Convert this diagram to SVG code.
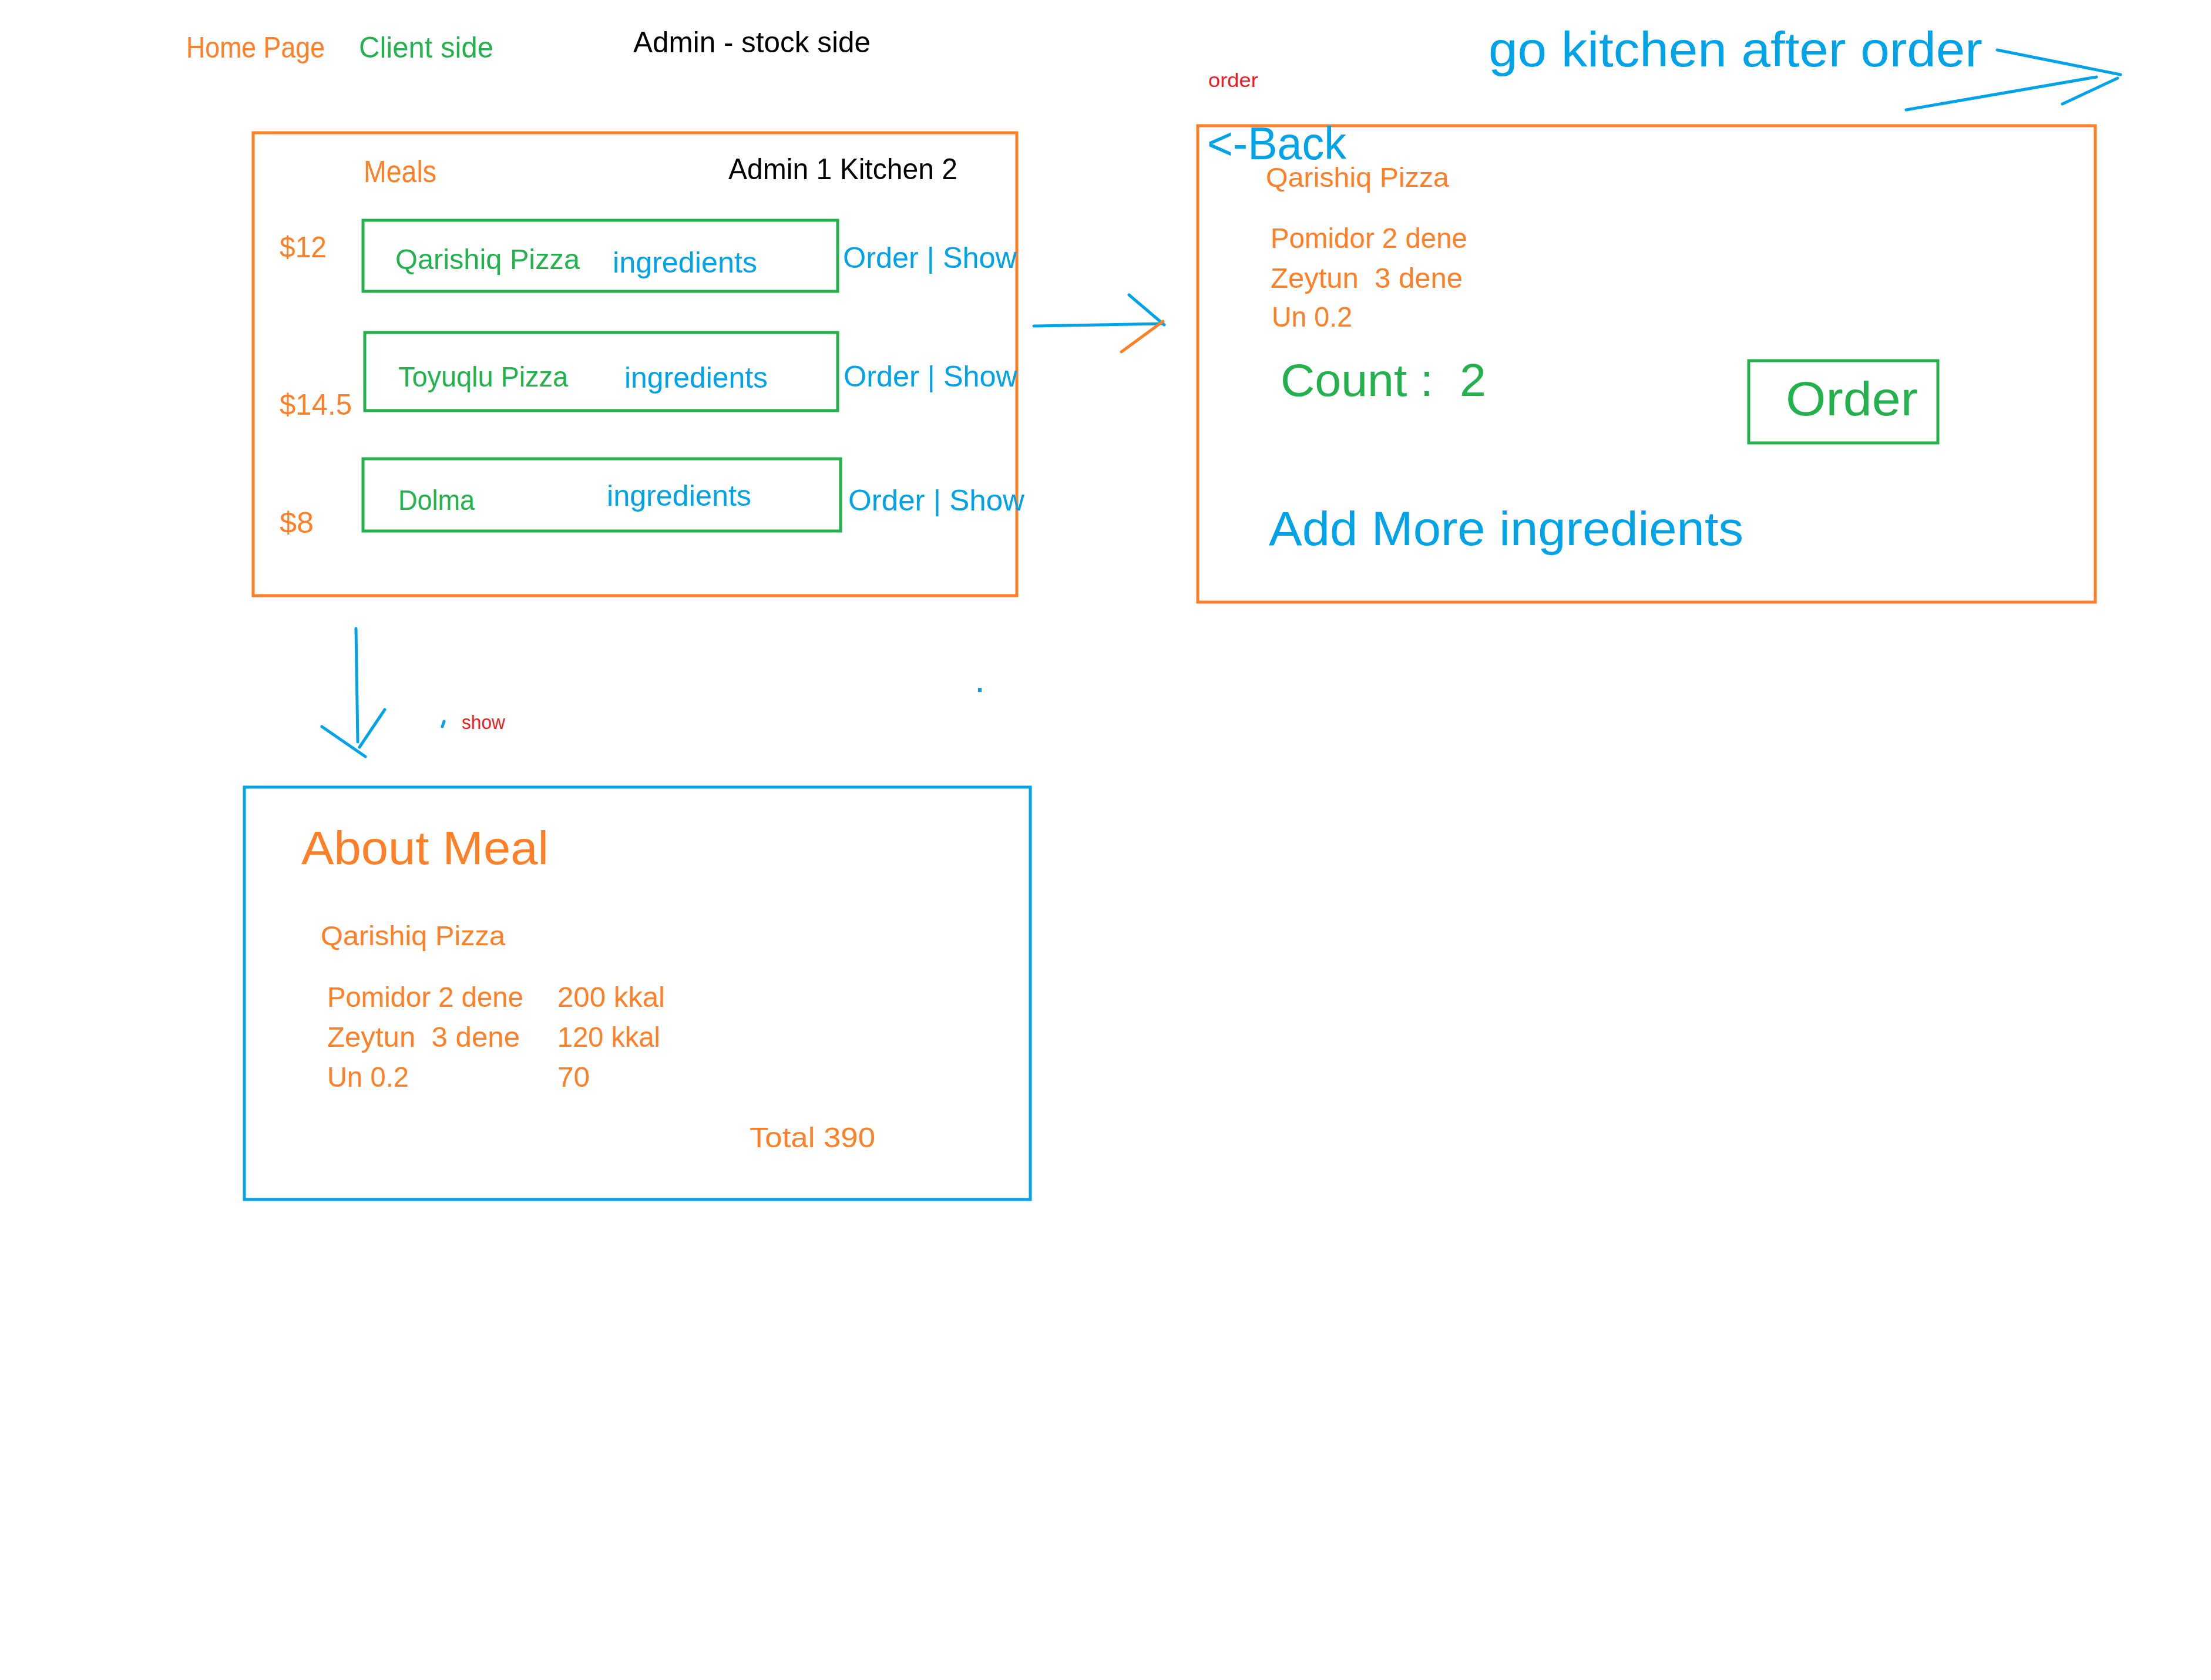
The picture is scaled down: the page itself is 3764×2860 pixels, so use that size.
<svg xmlns="http://www.w3.org/2000/svg" width="3764" height="2860" viewBox="0 0 3764 2860">
<style>
text{font-family:"Comic Sans MS","Liberation Sans","DejaVu Sans",sans-serif}
.pre{white-space:pre}
.o{fill:#FF7F27}.g{fill:#22B14C}.b{fill:#00A2E8}.r{fill:#ED1C24}.k{fill:#000}
.box-o{fill:none;stroke:#FF7F27;stroke-width:5}
.box-g{fill:none;stroke:#22B14C;stroke-width:5}
.box-b{fill:none;stroke:#00A2E8;stroke-width:5}
.ln-b{fill:none;stroke:#00A2E8;stroke-width:5;stroke-linecap:round}
.ln-o{fill:none;stroke:#FF7F27;stroke-width:5;stroke-linecap:round}
</style>
<rect width="3764" height="2860" fill="#fff"/>

<g id="headers">
<text class="o" x="317" y="98" font-size="50" textLength="236" lengthAdjust="spacingAndGlyphs">Home Page</text>
<text class="g" x="611" y="98" font-size="50" textLength="229" lengthAdjust="spacingAndGlyphs">Client side</text>
<text class="k" x="1078" y="89" font-size="50" textLength="404" lengthAdjust="spacingAndGlyphs">Admin - stock side</text>
</g>

<g id="home-page">
<rect class="box-o" x="431" y="226" width="1300" height="788"/>
<text class="o" x="619" y="310" font-size="51" textLength="124" lengthAdjust="spacingAndGlyphs">Meals</text>
<text class="k" x="1240" y="305" font-size="50" textLength="390" lengthAdjust="spacingAndGlyphs">Admin 1 Kitchen 2</text>
<text class="o" x="476" y="438" font-size="50" textLength="80" lengthAdjust="spacingAndGlyphs">$12</text>
<text class="o" x="476" y="706" font-size="50" textLength="123" lengthAdjust="spacingAndGlyphs">$14.5</text>
<text class="o" x="476" y="907" font-size="50" textLength="58" lengthAdjust="spacingAndGlyphs">$8</text>
</g>

<g id="meal-qarishiq">
<rect class="box-g" x="618" y="375" width="808" height="121"/>
<text class="g" x="673" y="458" font-size="49" textLength="314" lengthAdjust="spacingAndGlyphs">Qarishiq Pizza</text>
<text class="b" x="1043" y="464" font-size="50" textLength="246" lengthAdjust="spacingAndGlyphs">ingredients</text>
<text class="b" x="1435" y="456" font-size="50" textLength="296" lengthAdjust="spacingAndGlyphs">Order | Show</text>
</g>

<g id="meal-toyuqlu">
<rect class="box-g" x="621" y="566" width="805" height="133"/>
<text class="g" x="678" y="658" font-size="49" textLength="289" lengthAdjust="spacingAndGlyphs">Toyuqlu Pizza</text>
<text class="b" x="1063" y="660" font-size="50" textLength="244" lengthAdjust="spacingAndGlyphs">ingredients</text>
<text class="b" x="1436" y="658" font-size="50" textLength="296" lengthAdjust="spacingAndGlyphs">Order | Show</text>
</g>

<g id="meal-dolma">
<rect class="box-g" x="618" y="781" width="813" height="123"/>
<text class="g" x="678" y="868" font-size="49" textLength="130" lengthAdjust="spacingAndGlyphs">Dolma</text>
<text class="b" x="1033" y="861" font-size="50" textLength="246" lengthAdjust="spacingAndGlyphs">ingredients</text>
<text class="b" x="1444" y="869" font-size="50" textLength="300" lengthAdjust="spacingAndGlyphs">Order | Show</text>
</g>

<g id="order-page">
<rect class="box-o" x="2039" y="214" width="1528" height="811"/>
<text class="b" x="2055" y="271" font-size="78" textLength="237" lengthAdjust="spacingAndGlyphs">&lt;-Back</text>
<text class="o" x="2155" y="318" font-size="46" textLength="312" lengthAdjust="spacingAndGlyphs">Qarishiq Pizza</text>
<text class="o" x="2163" y="422" font-size="48" textLength="335" lengthAdjust="spacingAndGlyphs">Pomidor 2 dene</text>
<text class="o pre" x="2163" y="490" font-size="48" textLength="327" lengthAdjust="spacingAndGlyphs">Zeytun  3 dene</text>
<text class="o" x="2165" y="556" font-size="48" textLength="137" lengthAdjust="spacingAndGlyphs">Un 0.2</text>
<text class="g pre" x="2180" y="674" font-size="78" textLength="350" lengthAdjust="spacingAndGlyphs">Count :  2</text>
<text class="b" x="2160" y="928" font-size="81" textLength="808" lengthAdjust="spacingAndGlyphs">Add More ingredients</text>
</g>

<g id="order-button">
<rect class="box-g" x="2977" y="614" width="322" height="140"/>
<text class="g" x="3040" y="707" font-size="82" textLength="225" lengthAdjust="spacingAndGlyphs">Order</text>
</g>

<g id="about-meal">
<rect class="box-b" x="416" y="1340" width="1338" height="702"/>
<text class="o" x="513" y="1471" font-size="80" textLength="421" lengthAdjust="spacingAndGlyphs">About Meal</text>
<text class="o" x="546" y="1609" font-size="47" textLength="314" lengthAdjust="spacingAndGlyphs">Qarishiq Pizza</text>
<text class="o" x="557" y="1714" font-size="48" textLength="334" lengthAdjust="spacingAndGlyphs">Pomidor 2 dene</text>
<text class="o" x="949" y="1714" font-size="48" textLength="183" lengthAdjust="spacingAndGlyphs">200 kkal</text>
<text class="o pre" x="557" y="1782" font-size="48" textLength="328" lengthAdjust="spacingAndGlyphs">Zeytun  3 dene</text>
<text class="o" x="949" y="1782" font-size="48" textLength="175" lengthAdjust="spacingAndGlyphs">120 kkal</text>
<text class="o" x="557" y="1850" font-size="48" textLength="139" lengthAdjust="spacingAndGlyphs">Un 0.2</text>
<text class="o" x="949" y="1850" font-size="48" textLength="55" lengthAdjust="spacingAndGlyphs">70</text>
<text class="o" x="1276" y="1953" font-size="48" textLength="214" lengthAdjust="spacingAndGlyphs">Total 390</text>
</g>

<g id="connectors">
<path class="ln-b" d="M1760 555 L1980 551"/>
<path class="ln-b" d="M1922 502 L1982 553"/>
<path class="ln-o" d="M1909 599 L1980 547"/>
<text class="r" x="2057" y="148" font-size="34" textLength="85" lengthAdjust="spacingAndGlyphs">order</text>
<path class="ln-b" d="M606 1070 L609 1263"/>
<path class="ln-b" d="M548 1237 L622 1288"/>
<path class="ln-b" d="M655 1208 L612 1272"/>
<path class="ln-b" d="M756 1228 L753 1237"/>
<text class="r" x="786" y="1241" font-size="34" textLength="74" lengthAdjust="spacingAndGlyphs">show</text>
<rect x="1665" y="1171" width="6" height="7" fill="#00A2E8"/>
<text class="b" x="2534" y="113" font-size="84" textLength="841" lengthAdjust="spacingAndGlyphs">go kitchen after order</text>
<path class="ln-b" d="M3400 85 L3610 127"/>
<path class="ln-b" d="M3245 187 L3569 131"/>
<path class="ln-b" d="M3511 177 L3605 133"/>
</g>
</svg>
